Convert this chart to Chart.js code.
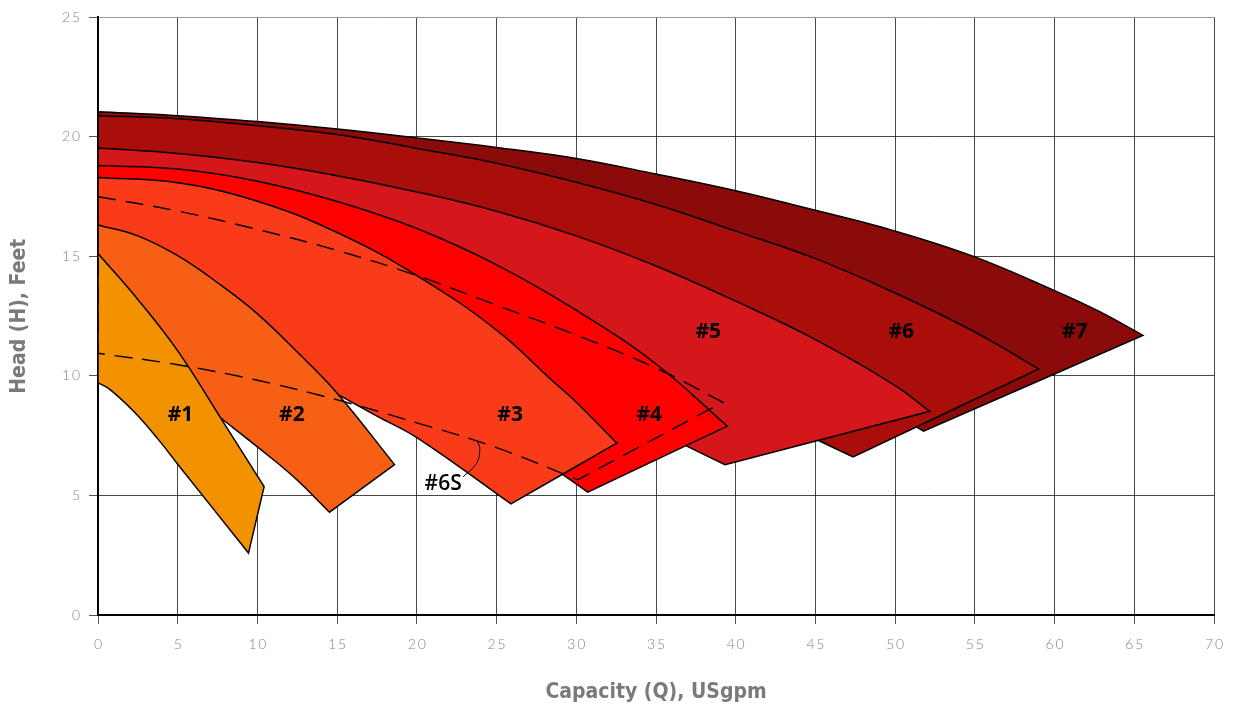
<!DOCTYPE html>
<html>
<head>
<meta charset="utf-8">
<script src="https://cdn.jsdelivr.net/npm/chart.js@4.4.1/dist/chart.umd.min.js"></script>
<style>
  html, body { margin: 0; padding: 0; background: #fff; }
  #wrap { width: 1240px; height: 711px; }
</style>
</head>
<body>
<div id="wrap"><canvas id="pumpChart"></canvas></div>
<script>
// Pump curves: [capacity USgpm, head ft]
const top1 = [[0, 15.12], [2.5, 13.2], [5, 11.05], [7.7, 8.24], [10.42, 5.37]];
const bottom1 = [[9.44, 2.59], [5, 6.31], [3.7, 7.41], [2.25, 8.51], [0.8, 9.41], [0, 9.72]];
const hidden1 = [];

const top2 = [[0, 16.32], [2.5, 15.86], [5, 15.03], [7.5, 13.9], [10, 12.6], [12.5, 11.0], [15, 9.28], [18.6, 6.29]];
const bottom2 = [[14.52, 4.3], [12.3, 5.76], [10, 7.03], [7.7, 8.24]];
const hidden2 = [[4, 10.5], [0, 12.5]];

const top3 = [[0, 18.3], [5, 18.08], [10, 17.31], [15, 16.0], [20, 14.2], [25, 11.92], [28.5, 9.8], [30, 8.9], [32.54, 7.19]];
const bottom3 = [[25.9, 4.65], [20, 7.42], [17.5, 8.32], [14.88, 9.29]];
const hidden3 = [[8, 12], [0, 14]];

const top4 = [[0, 18.8], [5, 18.66], [10, 18.15], [15, 17.3], [20, 16.17], [25, 14.65], [30, 12.75], [35, 10.5], [39.47, 7.9]];
const bottom4 = [[30.72, 5.14], [29.0, 5.95]];
const hidden4 = [[25, 8], [0, 16]];

const top5 = [[0, 19.54], [5, 19.31], [10, 18.93], [15, 18.38], [20, 17.7], [25, 16.89], [30, 15.86], [35, 14.6], [40, 13.13], [45, 11.52], [50, 9.6], [52.17, 8.52]];
const bottom5 = [[39.33, 6.29], [36.97, 7.05]];
const hidden5 = [[33, 9], [0, 18]];

const top6 = [[0, 20.89], [5, 20.76], [10, 20.47], [15, 20.1], [20, 19.52], [25, 18.9], [30, 18.1], [35, 17.17], [40, 16.06], [45, 14.91], [50, 13.47], [55, 11.84], [59, 10.29]];
const bottom6 = [[47.36, 6.61], [45.2, 7.3]];
const hidden6 = [[40, 9.5], [0, 18.5]];

const top7 = [[0, 21.05], [5, 20.89], [10, 20.64], [15, 20.33], [20, 19.96], [25, 19.56], [30, 19.1], [35, 18.45], [40, 17.75], [45, 16.93], [50, 16.06], [55, 14.98], [60, 13.57], [62.8, 12.7], [65.54, 11.7]];
const bottom7 = [[51.78, 7.69], [51.35, 7.86]];
const hidden7 = [[45, 10], [0, 19]];

// #6S (dashed)
const dashTop = [[0, 17.5], [5, 16.9], [10, 16.13], [15, 15.25], [20, 14.2], [25, 12.96], [30, 11.71], [35, 10.33], [39.2, 8.9]];
const dashBottom = [[30.1, 5.66], [25, 7.0], [20, 8.04], [15, 9.0], [10, 9.82], [5, 10.47], [0, 10.95]];
const leader6S = [[22.9, 5.78], [23.75, 6.35], [23.95, 6.95], [23.8, 7.25]];

const regionColors = ['#F39200', '#F75F14', '#F93B1A', '#FE0000', '#D5161A', '#AA0E0B', '#8B0B0A'];

const labelText = ['#1', '#2', '#3', '#4', '#5', '#6', '#7', '#6S'];
const labelX = [5.17, 12.16, 25.85, 34.58, 38.28, 50.38, 61.27, 21.65];
const labelY = [8.35, 8.35, 8.35, 8.35, 11.82, 11.84, 11.84, 5.5];

const xTicks = [0, 70, 5];
const yTicks = [0, 25, 5];

// build a closed outline; corners are doubled so the curve tension keeps them sharp
function outline(top, bottom, hidden) {
  const pts = [];
  const add = p => pts.push({ x: p[0], y: p[1] });
  const corner = p => { add(p); add(p); };
  corner(top[0]);
  top.slice(1, -1).forEach(add);
  corner(top[top.length - 1]);
  corner(bottom[0]);
  bottom.slice(1, -1).forEach(add);
  corner(bottom[bottom.length - 1]);
  hidden.forEach(corner);
  corner(top[0]);
  return pts;
}

const regions = [
  [top1, bottom1, hidden1], [top2, bottom2, hidden2], [top3, bottom3, hidden3],
  [top4, bottom4, hidden4], [top5, bottom5, hidden5], [top6, bottom6, hidden6],
  [top7, bottom7, hidden7]
];

const datasets = [];
datasets.push({
  label: '#6S leader',
  data: leader6S.map(p => ({ x: p[0], y: p[1] })),
  borderColor: '#000', borderWidth: 1, tension: 0.4, fill: false
});
datasets.push({
  label: '#6S',
  data: outline(dashTop, dashBottom, []),
  borderColor: '#000', borderWidth: 1.4, borderDash: [18, 10], tension: 0.4, fill: false
});
regions.forEach((r, i) => {
  datasets.push({
    label: labelText[i],
    data: outline(r[0], r[1], r[2]),
    backgroundColor: regionColors[i],
    borderColor: '#000',
    borderWidth: 1.5,
    tension: 0.4,
    fill: 'shape'
  });
});

const labelPlugin = {
  id: 'regionLabels',
  afterDraw(chart) {
    const { ctx, scales: { x, y } } = chart;
    ctx.save();
    ctx.fillStyle = '#000';
    ctx.textAlign = 'center';
    ctx.textBaseline = 'middle';
    labelText.forEach((t, i) => {
      ctx.font = (t === '#6S' ? '600 ' : 'bold ') + '21px "Open Sans"';
      ctx.fillText(t, x.getPixelForValue(labelX[i]), y.getPixelForValue(labelY[i]));
    });
    ctx.restore();
  }
};

const tickFont = { family: 'Lato', weight: '300', size: 14 };
const titleFont = { family: '"DejaVu Sans Condensed", "DejaVu Sans"', weight: 'bold', size: 21 };
const spaced = v => String(v).split('').join('\u2009');

new Chart(document.getElementById('pumpChart'), {
  type: 'scatter',
  data: { datasets: datasets },
  options: {
    responsive: true,
    maintainAspectRatio: false,
    animation: false,
    layout: { padding: { top: 13, right: 26, left: 0, bottom: 0 } },
    elements: { point: { radius: 0, hoverRadius: 0 } },
    showLine: true,
    plugins: { legend: { display: false }, tooltip: { enabled: false } },
    scales: {
      x: {
        type: 'linear', min: xTicks[0], max: xTicks[1], z: 1,
        ticks: { stepSize: xTicks[2], font: tickFont, color: '#858585', padding: 12, callback: spaced },
        grid: { color: 'rgba(0,0,0,0.72)', tickColor: '#555', tickLength: 9, lineWidth: 1 },
        border: { color: '#000', width: 2 },
        title: { display: true, text: 'Capacity (Q), USgpm', color: '#7a7a7a', font: titleFont, padding: { top: 0, bottom: 6 } },
        afterFit(scale) { scale.height = 96; }
      },
      y: {
        type: 'linear', min: yTicks[0], max: yTicks[1], z: 1,
        ticks: { stepSize: yTicks[2], font: tickFont, color: '#858585', padding: 9, callback: spaced },
        grid: {
          color: c => (c.tick && c.tick.value === 25 ? '#9a9a9a' : 'rgba(0,0,0,0.72)'),
          tickColor: '#555', tickLength: 9, lineWidth: 1
        },
        border: { color: '#000', width: 2 },
        title: { display: true, text: 'Head (H), Feet', color: '#7a7a7a', font: titleFont, padding: { top: 7, bottom: 0 } },
        afterFit(scale) { scale.width = 98; }
      }
    }
  },
  plugins: [labelPlugin]
});
</script>
</body>
</html>
